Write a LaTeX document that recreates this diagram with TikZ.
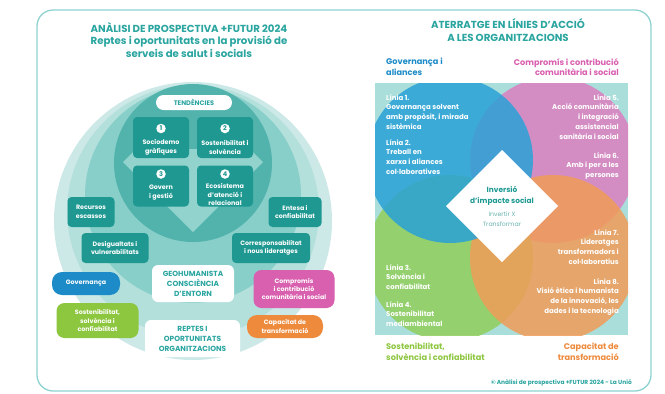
\documentclass[tikz,border=0pt]{standalone}
\usepackage{fontspec}
\setmainfont{Poppins}
\definecolor{frameC}{HTML}{8ED3D0}
\definecolor{titleC}{HTML}{2AA5A0}
\definecolor{cA}{HTML}{CDE9E7}
\definecolor{cA2}{HTML}{B4E0DC}
\definecolor{cB}{HTML}{88CFCA}
\definecolor{cC}{HTML}{52B3AD}
\definecolor{diamC}{HTML}{92D3CE}
\definecolor{boxT}{HTML}{1E9891}
\definecolor{govB}{HTML}{1C8BC8}
\definecolor{susG}{HTML}{8DC63F}
\definecolor{comP}{HTML}{D95FAF}
\definecolor{capO}{HTML}{EE8A3C}
\definecolor{sqC}{HTML}{A9DEDB}
\definecolor{vBlue}{HTML}{2AA2D7}
\definecolor{vPink}{HTML}{D985C1}
\definecolor{vGreen}{HTML}{93CF63}
\definecolor{vOrange}{HTML}{F09C58}
\definecolor{invC}{HTML}{1F9A93}
\definecolor{grayT}{HTML}{6AB3AE}
\newcommand\myfs[2]{\fontsize{#1}{#2}\selectfont}
\begin{document}
\begin{tikzpicture}[x=1pt,y=-1pt,
  tbox/.style={fill=boxT, rounded corners=4pt, inner sep=0pt, text=white, font=\myfs{6.3}{8.4}\bfseries, align=center},
  cbox/.style={inner sep=0pt, text=white, font=\myfs{6.3}{8.4}\bfseries, align=center},
  wbox/.style={fill=white, rounded corners=6pt, inner sep=0pt, text=titleC, font=\myfs{7.4}{10}\bfseries, align=center},
  numc/.style={circle, fill=white, inner sep=0pt, minimum size=9.5pt, text=boxT, font=\myfs{6.5}{7}\bfseries},
  btxt/.style={inner sep=0pt, text=white, font=\myfs{6.4}{8.4}\bfseries, align=center},
  ttl/.style={inner sep=0pt, text=titleC, font=\myfs{10.2}{12.6}\bfseries, align=center},
  ltxt/.style={inner sep=0pt, text=white, font=\myfs{7}{9.9}\bfseries, align=left, anchor=north west},
  rtxt/.style={inner sep=0pt, text=white, font=\myfs{7}{9.9}\bfseries, align=right, anchor=north east},
  hl/.style={inner sep=0pt, font=\myfs{8.2}{10.6}\bfseries, align=left, anchor=north west},
  hr/.style={inner sep=0pt, font=\myfs{8.2}{10.6}\bfseries, align=right, anchor=north east},
]
\useasboundingbox (0,0) rectangle (665,394);
\fill[white] (0,0) rectangle (665,394);
% frame
\draw[frameC, line width=1.3pt, rounded corners=16pt] (37,10) rectangle (651,391);

% ---------- left panel ----------
\node[ttl] (lt) at (189,40) {ANÀLISI DE PROSPECTIVA +FUTUR 2024\\Reptes i oportunitats en la provisió de\\serveis de salut i socials};

\fill[cA] (193,221) circle (139);
\fill[cA2] (193,211) circle (126);
\fill[cB] (193,195) circle (108);
\fill[cC] (193,163) circle (79);
\fill[diamC] (123,162) -- (136,149) -- (250,149) -- (263,162) -- (193,232) -- cycle;

\node[fill=white, rounded corners=7.5pt, minimum width=76pt, minimum height=15pt, inner sep=0pt, text=titleC, font=\myfs{6.6}{7}\bfseries] (ten) at (194,102.5) {TENDÈNCIES};

\node[tbox, minimum width=56pt, minimum height=41pt] (b1) at (161,137.5) {};
\node[tbox, minimum width=56pt, minimum height=41pt] (b2) at (225,137.5) {};
\node[tbox, minimum width=56pt, minimum height=41pt] (b3) at (161,186) {};
\node[tbox, minimum width=56pt, minimum height=41pt] (b4) at (225,186) {};
\node[numc] (n1) at (161,128.5) {1};
\node[numc] (n2) at (225,128.5) {2};
\node[numc] (n3) at (161,174) {3};
\node[numc] (n4) at (225,174) {4};
\node[btxt] (t1) at (161,147.5) {Sociodemo\\gràfiques};
\node[btxt] (t2) at (225,147.5) {Sostenibilitat i\\solvència};
\node[btxt] (t3) at (161,192.5) {Govern\\i gestió};
\node[btxt] (t4) at (225,194.5) {Ecosistema\\d’atenció i\\relacional};

\node[tbox, minimum width=47pt, minimum height=30pt] (rec) at (91,212) {Recursos\\escassos};
\node[tbox, minimum width=53pt, minimum height=30pt] (ent) at (295,212) {Entesa i\\confiabilitat};
\node[tbox, minimum width=67pt, minimum height=30pt] (des) at (115,248) {Desigualtats i\\vulnerabilitats};
\node[tbox, minimum width=78pt, minimum height=30pt] (cor) at (271,248) {Corresponsabilitat\\i nous lideratges};
\node[cbox, fill=govB, rounded corners=10pt, minimum width=68pt, minimum height=23pt] (gov) at (86,283.5) {Governança};
\node[cbox, fill=susG, rounded corners=8pt, minimum width=82pt, minimum height=35pt] (sus) at (97.5,320.5) {Sostenibilitat,\\solvència i\\confiabilitat};
\node[wbox, minimum width=82pt, minimum height=37pt] (geo) at (193,283.5) {GEOHUMANISTA\\CONSCIÈNCIA\\D’ENTORN};
\node[wbox, minimum width=95pt, minimum height=37pt] (rep) at (192.5,338.5) {REPTES I\\OPORTUNITATS\\ORGANITZACIONS};
\node[cbox, fill=comP, rounded corners=8pt, minimum width=81pt, minimum height=38pt] (com) at (294,289) {Compromís\\i contribució\\comunitària i social};
\node[cbox, fill=capO, rounded corners=10pt, minimum width=76pt, minimum height=23pt] (cap) at (285,326.5) {Capacitat de\\transformació};

% ---------- right panel ----------
\node[ttl] (rt) at (508,30) {ATERRATGE EN LÍNIES D’ACCIÓ\\A LES ORGANITZACIONS};
\node[hl, text=govB] (hgov) at (386,58) {Governança i\\aliances};
\node[hr, text=comP] (hcom) at (619,58) {Compromís i contribució\\comunitària i social};

\fill[sqC] (375,83) rectangle (628,335);
\begin{scope}
\clip (375,83) rectangle (628,335);
\fill[vPink, fill opacity=0.9] (553,160) circle (83);
\fill[vGreen, fill opacity=0.9] (450,258) circle (83);
\fill[vOrange, fill opacity=0.85] (553,258) circle (83);
\fill[vBlue, fill opacity=0.85] (450,160) circle (83);
\end{scope}

\node[ltxt] (l1) at (386,94) {Línia 1.\\Governança solvent\\amb propòsit, i mirada\\sistèmica};
\node[ltxt] (l2) at (386,139) {Línia 2.\\Treball en\\xarxa i aliances\\col·laboratives};
\node[rtxt] (l5) at (619,94) {Línia 5.\\Acció comunitària\\i integració\\assistencial\\sanitària i social};
\node[rtxt] (l6) at (619,152) {Línia 6.\\Amb i per a les\\persones};
\node[rtxt] (l7) at (619,229) {Línia 7.\\Lideratges\\transformadors i\\col·laboratius};
\node[rtxt] (l8) at (619,278) {Línia 8.\\Visió ètica i humanista\\de la innovació, les\\dades i la tecnologia};
\node[ltxt] (l3) at (386,264) {Línia 3.\\Solvència i\\confiabilitat};
\node[ltxt] (l4) at (386,301) {Línia 4.\\Sostenibilitat\\mediambiental};

\fill[white] (502,150) -- (558,206) -- (502,262) -- (446,206) -- cycle;
\node[inner sep=0pt, text=invC, font=\myfs{7.4}{11.5}\bfseries, align=center] (inv) at (502,196) {Inversió\\d’impacte social};
\node[inner sep=0pt, text=grayT, font=\myfs{6.2}{9.5}, align=center] (itx) at (502,219) {Invertir X\\Transformar};

\node[hl, text=susG] (hsus) at (386,343) {Sostenibilitat,\\solvència i confiabilitat};
\node[hr, text=capO] (hcap) at (619,343) {Capacitat de\\transformació};
\node[inner sep=0pt, text=titleC, font=\myfs{5.9}{6}\bfseries, anchor=east] (foot) at (632,383) {© Anàlisi de prospectiva +FUTUR 2024 - La Unió};
\end{tikzpicture}
\end{document}
